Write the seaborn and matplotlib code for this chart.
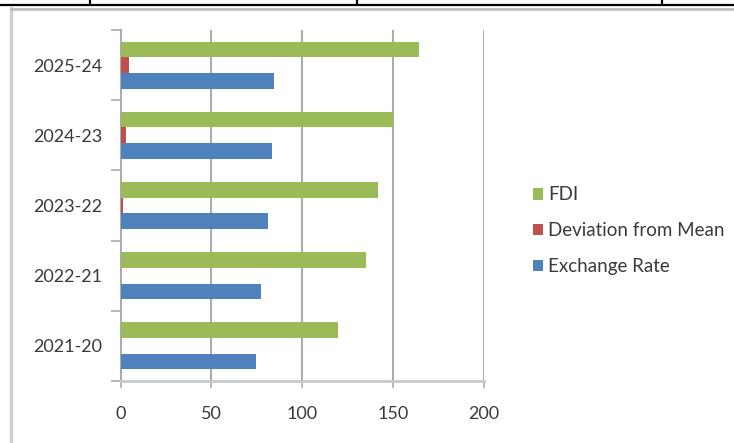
import numpy as np
import pandas as pd
import matplotlib
matplotlib.use("Agg")
import matplotlib.pyplot as plt
from matplotlib.lines import Line2D
import seaborn as sns

# Data
years = ["2025-24", "2024-23", "2023-22", "2022-21", "2021-20"]
fdi = [164.5, 149.7, 141.9, 135.2, 119.9]
deviation = [4.6, 3.3, 1.4, -2.6, -5.6]
exchange_rate = [84.3, 83.2, 81.0, 77.5, 74.5]
series_names = ["FDI", "Deviation from Mean", "Exchange Rate"]
series_colors = ["#9BBB59", "#C0504D", "#4F81BD"]
x_ticks = [0, 50, 100, 150, 200]

df = pd.DataFrame({
    "Year": years * 3,
    "Series": [series_names[0]] * 5 + [series_names[1]] * 5 + [series_names[2]] * 5,
    "Value": fdi + deviation + exchange_rate,
})

sns.set_style("white")
plt.rcParams["font.family"] = ["Lato", "DejaVu Sans"]
text_color = "#3a3a3a"

W, H = 734, 443
fig = plt.figure(figsize=(W / 100, H / 100), dpi=100)
fig.patch.set_facecolor("white")

# plot area in pixel coordinates
left, right, top, bottom = 120.5, 484.0, 30.0, 381.0
ax = fig.add_axes([left / W, 1 - bottom / H, (right - left) / W, (bottom - top) / H])

sns.barplot(data=df, y="Year", x="Value", hue="Series", order=years,
            hue_order=series_names, palette=series_colors, orient="h",
            width=0.667, gap=0, saturation=1, linewidth=0, ax=ax,
            legend=True, zorder=3)

ax.set_xlim(0, 200)
ax.set_ylim(4.5, -0.5)
ax.set_xlabel("")
ax.set_ylabel("")

grid_color = "#acacac"
ax.set_xticks(x_ticks)
ax.set_xticklabels([str(t) for t in x_ticks], fontsize=13, color=text_color)
for t in x_ticks[1:]:
    ax.axvline(t, color=grid_color, lw=1.5, zorder=1)

# category boundary ticks on the y axis, labels centred between them
ax.set_yticks(np.arange(-0.5, 5.0, 1.0))
ax.set_yticklabels([""] * 6)
ax.set_yticks(np.arange(5), minor=True)
ax.set_yticklabels(years, minor=True, fontsize=13, color=text_color)
ax.tick_params(axis="y", which="major", length=7, width=1.2, color=grid_color, left=True)
ax.tick_params(axis="y", which="minor", length=0, pad=13)
ax.tick_params(axis="x", length=5, width=1.2, color=grid_color, bottom=True, pad=13)

for s in ["top", "right"]:
    ax.spines[s].set_visible(False)
ax.spines["left"].set_color(grid_color)
ax.spines["left"].set_linewidth(1.5)
ax.spines["bottom"].set_color("#c8c8c8")
ax.spines["bottom"].set_linewidth(2.0)

handles, labels = ax.get_legend_handles_labels()
ax.legend(handles, labels, loc="upper left", bbox_to_anchor=(525 / W, 1 - 179 / H),
          bbox_transform=fig.transFigure, frameon=False, fontsize=13.5,
          handlelength=0.55, handleheight=0.55, handletextpad=0.3,
          labelspacing=1.0, labelcolor=text_color, borderaxespad=0)

# chart frame (left and top edges) and surrounding table rule
fig.add_artist(Line2D([11 / W, 11 / W], [0, 1 - 8 / H], color="#cfcfcf", lw=2.5,
                      transform=fig.transFigure))
fig.add_artist(Line2D([11 / W, 1], [1 - 8.5 / H, 1 - 8.5 / H], color="#bdbdbd", lw=2.0,
                      transform=fig.transFigure))
fig.add_artist(Line2D([0, 1], [1 - 5 / H, 1 - 5 / H], color="black", lw=1.6,
                      transform=fig.transFigure))
for xv in [90, 357, 662]:
    fig.add_artist(Line2D([xv / W, xv / W], [1 - 5 / H, 1], color="black", lw=1.6,
                          transform=fig.transFigure))

fig.savefig("out.png", dpi=100, facecolor="white")
